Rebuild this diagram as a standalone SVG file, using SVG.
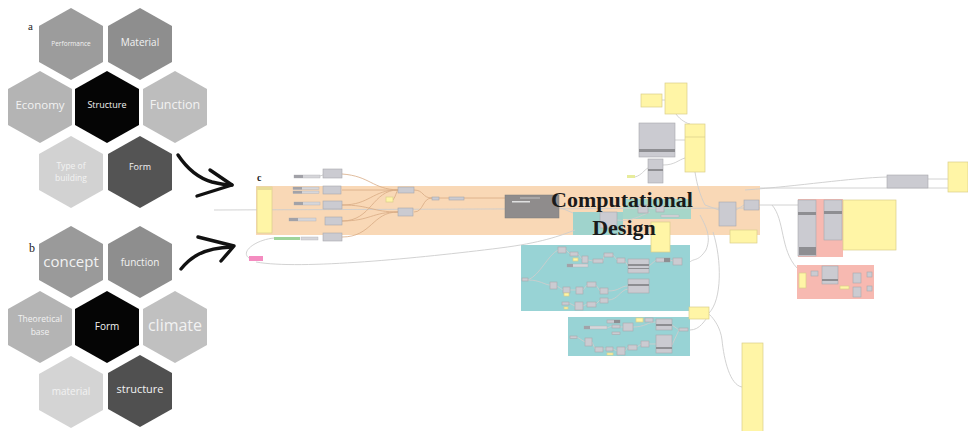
<svg xmlns="http://www.w3.org/2000/svg" width="968" height="431" viewBox="0 0 968 431">
<defs>
<polygon id="hex" points="0,-36 32,-18 32,18 0,36 -32,18 -32,-18"/>
</defs>
<style>
.ht{font-family:"Open Sans","Noto Sans",sans-serif;text-anchor:middle;dominant-baseline:middle;fill:#f2f2f2}
.lbl{font-family:"Liberation Serif",serif;fill:#222}
.nd{fill:#cbcbd1;stroke:#a9a9ad;stroke-width:0.6}
.st{fill:#8e8e92}
.yl{fill:#fff5a6;stroke:#d9cf8a;stroke-width:0.7}
.sl{fill:#d6d6da;stroke:#b0b0b4;stroke-width:0.4}
.sd{fill:#a2a2a8}
.w{fill:none;stroke:#cdcdcd;stroke-width:0.9}
.wo{fill:none;stroke:#d8ab84;stroke-width:0.8}
.arr{fill:none;stroke:#111;stroke-width:3.4;stroke-linecap:round;stroke-linejoin:round}
</style>
<rect width="968" height="431" fill="#fff"/>

<g id="cluster-a">
<text class="lbl" x="28" y="30" font-size="11">a</text>
<g id="a-performance"><use href="#hex" x="71" y="44" fill="#9c9c9c"/><text class="ht" x="71" y="44" font-size="6.5">Performance</text></g>
<g id="a-material"><use href="#hex" x="140" y="44" fill="#8e8e8e"/><text class="ht" x="140" y="43" font-size="10">Material</text></g>
<g id="a-economy"><use href="#hex" x="40" y="107" fill="#b4b4b4"/><text class="ht" x="40" y="106" font-size="11.5">Economy</text></g>
<g id="a-structure"><use href="#hex" x="107" y="107" fill="#050505"/><text class="ht" x="107" y="106" font-size="9" fill="#fff">Structure</text></g>
<g id="a-function"><use href="#hex" x="175" y="107" fill="#bdbdbd"/><text class="ht" x="175" y="106" font-size="12.5">Function</text></g>
<g id="a-type"><use href="#hex" x="71" y="172" fill="#d2d2d2"/><text class="ht" x="71" y="167" font-size="8.5">Type of</text><text class="ht" x="71" y="179" font-size="8.5">building</text></g>
<g id="a-form"><use href="#hex" x="140" y="172" fill="#545454"/><text class="ht" x="140" y="168" font-size="9" fill="#fff">Form</text></g>
</g>

<g id="cluster-b">
<text class="lbl" x="29" y="252" font-size="12">b</text>
<g id="b-concept"><use href="#hex" x="71" y="262" fill="#9a9a9a"/><text class="ht" x="71" y="263" font-size="15">concept</text></g>
<g id="b-function"><use href="#hex" x="140" y="262" fill="#8e8e8e"/><text class="ht" x="140" y="263" font-size="10">function</text></g>
<g id="b-theoretical"><use href="#hex" x="40" y="327" fill="#b4b4b4"/><text class="ht" x="40" y="320" font-size="8.5">Theoretical</text><text class="ht" x="40" y="333" font-size="8.5">base</text></g>
<g id="b-form"><use href="#hex" x="107" y="327" fill="#050505"/><text class="ht" x="107" y="327" font-size="10" fill="#fff">Form</text></g>
<g id="b-climate"><use href="#hex" x="175" y="327" fill="#c0c0c0"/><text class="ht" x="175" y="327" font-size="16">climate</text></g>
<g id="b-material"><use href="#hex" x="71" y="392" fill="#d4d4d4"/><text class="ht" x="71" y="392" font-size="10">material</text></g>
<g id="b-structure"><use href="#hex" x="140" y="391" fill="#505050"/><text class="ht" x="140" y="390" font-size="11">structure</text></g>
</g>

<g id="arrows">
<path class="arr" d="M178,155 C186,167 198,178 212,182 C220,184 226,185 232,185"/>
<path class="arr" d="M210,170 L232,185 L197,196"/>
<path class="arr" d="M181,269 C190,258 202,248 232,247"/>
<path class="arr" d="M198,237 L234,246 L221,261"/>
</g>

<g id="groups">
<rect id="grp-orange" x="256" y="186" width="504" height="49" fill="#f9d8b6"/>
<rect id="grp-teal-a" x="573" y="212" width="50" height="23" fill="#9fd3cc"/>
<rect id="grp-teal-b" x="623" y="199" width="68" height="20" fill="#a6d6c9"/>
<rect id="grp-teal-1" x="521" y="245" width="169" height="66" fill="#98d3d5"/>
<rect id="grp-teal-2" x="568" y="317" width="122" height="39" fill="#98d3d5"/>
<rect id="grp-pink-1" x="798" y="199" width="45" height="58" fill="#f7b9b1"/>
<rect id="grp-pink-2" x="797" y="265" width="77" height="34" fill="#f7b9b1"/>
</g>

<g id="connectors">
<path class="w" d="M214,210 L760,208"/>
<path class="w" d="M760,188 L948,188"/>
<path class="w" d="M745,190 C800,186 850,178 887,177"/>
<path class="w" d="M928,179 L948,179"/>
<path class="w" d="M759,205 L798,205"/>
<path class="w" d="M772,205 C785,220 780,250 797,268"/>
<path class="w" d="M249,258 C240,252 255,240 274,238"/>
<path class="w" d="M256,262 C300,270 420,258 500,248 C540,243 560,236 575,230"/>
<path class="wo" d="M342,174 C370,176 372,189 398,190"/>
<path class="wo" d="M342,190 L398,190"/>
<path class="wo" d="M342,205 C370,205 372,190 398,190"/>
<path class="wo" d="M342,205 C370,205 372,212 398,212"/>
<path class="wo" d="M342,221 C372,221 372,190 398,190"/>
<path class="wo" d="M342,221 C370,221 372,212 398,212"/>
<path class="wo" d="M342,237 C372,237 372,212 398,212"/>
<path class="wo" d="M393,200 C396,196 396,192 398,190"/>
<path class="wo" d="M414,190 C424,190 422,198 432,198"/>
<path class="wo" d="M414,212 C424,212 422,198 432,198"/>
<path class="wo" d="M439,198 L449,198"/>
<path class="wo" d="M464,198 L505,198"/>
<path class="w" d="M320,176 L323,175"/>
<path class="w" d="M662,100 L665,100"/>
<path class="w" d="M675,140 L685,140"/>
<path class="w" d="M663,165 C675,165 678,160 685,158"/>
<path class="w" d="M635,177 C642,175 644,170 648,168"/>
<path class="w" d="M676,114 C680,120 688,124 690,124"/>
<path class="w" d="M695,172 C697,185 700,195 705,205 L719,210"/>
<path class="w" d="M736,210 L744,205"/>
<path class="w" d="M700,215 C705,225 712,236 706,250 C698,262 694,258 690,262"/>
<path class="w" d="M713,232 C722,260 722,300 709,313"/>
<path class="w" d="M690,313 C700,300 720,320 722,340 C724,360 730,385 742,387"/>
<path class="w" d="M690,330 C700,330 705,320 709,315"/>
<path class="w" d="M559,207 L573,213"/>
<path class="w" d="M617,220 C630,222 640,216 650,212"/>
<path class="w" d="M528,280 C540,280 545,285 550,285"/>
<path class="w" d="M528,280 C540,275 548,255 558,250"/>
<path class="w" d="M566,250 L570,254 M578,254 L582,259 M588,260 L593,261 M603,261 L604,255 M613,255 L617,260 M625,261 L628,266"/>
<path class="w" d="M557,286 L563,290 M570,290 L576,290 M583,290 L587,285 M596,285 L600,291 M608,291 C620,291 620,286 628,286"/>
<path class="w" d="M569,303 L575,306 M583,306 L587,304 M596,304 L600,300 M608,300 C618,300 620,290 628,289"/>
<path class="w" d="M649,266 L656,260 M670,260 L673,261"/>
<path class="w" d="M577,337 L585,342 M592,342 L595,349 M603,349 L606,349 M613,349 L617,351 M625,351 L628,347 M637,347 L641,344 M649,344 L656,344"/>
<path class="w" d="M607,328 L612,326 M620,327 L623,327 M633,327 C645,327 648,322 656,322"/>
<path class="w" d="M672,325 L679,330 M672,345 L679,330"/>
</g>

<g id="nodes">
<text class="lbl" x="257" y="181" font-size="10" font-weight="bold">c</text>
<g id="n-panel-left"><rect class="yl" x="257" y="187" width="15" height="46"/><rect x="257" y="187" width="15" height="3" fill="#e8dc98"/></g>
<g id="n-sliders">
<rect class="sl" x="294" y="175" width="26" height="3"/><rect class="sd" x="294" y="175" width="9" height="3"/>
<rect class="sl" x="293" y="187" width="26" height="2.5"/><rect class="sd" x="293" y="187" width="9" height="2.5"/>
<rect class="sl" x="293" y="191" width="26" height="2.5"/><rect class="sd" x="293" y="191" width="9" height="2.5"/>
<rect class="sl" x="294" y="202" width="26" height="3"/><rect class="sd" x="294" y="202" width="9" height="3"/>
<rect class="sl" x="289" y="218" width="27" height="3"/><rect class="sd" x="289" y="218" width="9" height="3"/>
<rect x="274" y="237" width="26" height="3" fill="#9fd49a"/><rect class="sl" x="301" y="237" width="17" height="3"/>
</g>
<g id="n-orange-nodes">
<rect class="nd" x="323" y="169" width="19" height="9"/>
<rect class="nd" x="323" y="186" width="18" height="8"/>
<rect class="nd" x="323" y="201" width="19" height="8"/>
<rect class="nd" x="325" y="217" width="17" height="8"/>
<rect class="nd" x="323" y="233" width="19" height="8"/>
<rect class="yl" x="386" y="197" width="7" height="5"/>
<rect class="nd" x="398" y="187" width="16" height="6"/>
<rect class="nd" x="398" y="208" width="15" height="8"/>
<rect class="nd" x="432" y="197" width="7" height="3"/>
<rect class="nd" x="449" y="197" width="15" height="3"/>
</g>
<g id="n-pink"><rect x="249" y="256" width="14" height="5" fill="#f48cc0"/></g>
<g id="n-dark"><rect x="505" y="195" width="54" height="23" fill="#8f8c8c" stroke="#7e7c7c" stroke-width="0.5"/><rect x="512" y="201" width="18" height="1.5" fill="#e0e0e0"/><rect x="520" y="197" width="20" height="2" fill="#a9a7a7"/></g>
<g id="n-top">
<rect class="yl" x="641" y="94" width="21" height="13"/>
<rect class="yl" x="665" y="83" width="22" height="31"/>
<rect class="nd" x="639" y="123" width="36" height="34"/><rect class="st" x="639" y="149" width="36" height="3"/>
<rect class="yl" x="685" y="124" width="20" height="48"/><line x1="685" y1="137" x2="705" y2="137" stroke="#d9cf8a" stroke-width="0.7"/>
<rect class="nd" x="648" y="159" width="15" height="24"/><rect class="st" x="648" y="169" width="15" height="2"/>
<rect x="627" y="175" width="8" height="3" fill="#e7ec9c"/>
</g>
<g id="n-mid">
<rect class="nd" x="600" y="212" width="17" height="16"/>
<rect class="nd" x="638" y="205" width="10" height="8"/>
<rect class="nd" x="656" y="206" width="8" height="6"/>
<rect class="sl" x="661" y="215" width="18" height="2"/>
<rect class="yl" x="651" y="222" width="19" height="30"/>
<rect class="nd" x="719" y="202" width="17" height="24"/>
<rect class="nd" x="744" y="200" width="15" height="10"/>
<rect class="yl" x="730" y="230" width="27" height="13"/>
</g>
<g id="n-right">
<rect class="nd" x="887" y="175" width="41" height="13"/>
<rect class="yl" x="948" y="162" width="20" height="30"/>
<rect class="nd" x="798" y="200" width="18" height="56"/><rect class="st" x="798" y="212" width="18" height="3"/><rect class="st" x="799" y="247" width="17" height="8"/>
<rect class="nd" x="824" y="200" width="18" height="40"/><rect class="st" x="824" y="211" width="18" height="3"/>
<rect class="yl" x="843" y="200" width="53" height="50"/>
<rect class="yl" x="799" y="273" width="7" height="15"/>
<rect class="nd" x="811" y="271" width="7" height="5"/>
<rect class="nd" x="822" y="266" width="16" height="18"/><rect class="st" x="822" y="279" width="16" height="2"/>
<rect class="yl" x="840" y="286" width="9" height="3"/>
<rect class="nd" x="853" y="273" width="8" height="10"/>
<rect class="nd" x="853" y="287" width="8" height="10"/>
<rect class="nd" x="867" y="272" width="5" height="5"/>
<rect class="nd" x="867" y="286" width="5" height="5"/>
</g>
<g id="n-teal-1">
<rect class="nd" x="558" y="247" width="8" height="6"/>
<rect class="nd" x="570" y="252" width="8" height="4"/>
<rect class="yl" x="573" y="258" width="5" height="3"/>
<rect class="nd" x="582" y="256" width="6" height="7"/>
<rect class="nd" x="593" y="259" width="10" height="4"/>
<rect class="nd" x="604" y="253" width="9" height="4"/>
<rect class="nd" x="617" y="258" width="8" height="5"/>
<rect class="sl" x="567" y="264" width="21" height="3"/><rect class="sd" x="567" y="264" width="6" height="3"/>
<rect class="nd" x="628" y="259" width="21" height="14"/><rect class="st" x="628" y="264" width="21" height="2"/><rect class="st" x="628" y="268" width="21" height="1"/>
<rect class="nd" x="628" y="279" width="21" height="14"/><rect class="st" x="628" y="284" width="21" height="2"/>
<rect class="nd" x="656" y="258" width="14" height="4"/><rect class="st" x="664" y="258" width="6" height="4"/>
<rect class="nd" x="673" y="258" width="9" height="7"/>
<rect class="nd" x="522" y="278" width="6" height="3"/>
<rect class="nd" x="550" y="282" width="7" height="7"/>
<rect class="nd" x="563" y="287" width="7" height="6"/>
<rect class="yl" x="564" y="293" width="5" height="3"/>
<rect class="nd" x="576" y="287" width="7" height="7"/>
<rect class="nd" x="587" y="282" width="9" height="5"/>
<rect class="nd" x="600" y="288" width="8" height="6"/>
<rect class="nd" x="562" y="302" width="7" height="3"/>
<rect class="yl" x="564" y="307" width="4" height="2"/>
<rect class="nd" x="575" y="302" width="8" height="8"/>
<rect class="nd" x="587" y="302" width="9" height="5"/>
<rect class="nd" x="600" y="298" width="8" height="5"/>
</g>
<g id="n-teal-2">
<rect class="nd" x="607" y="320" width="13" height="3"/><rect class="st" x="614" y="320" width="6" height="3"/>
<rect class="yl" x="636" y="318" width="7" height="4"/>
<rect class="nd" x="645" y="318" width="8" height="4"/>
<rect class="nd" x="656" y="319" width="16" height="11"/><rect class="st" x="656" y="324" width="16" height="2"/>
<rect class="sl" x="584" y="326" width="23" height="3"/><rect class="sd" x="584" y="326" width="6" height="3"/>
<rect class="nd" x="612" y="325" width="8" height="3"/>
<rect class="nd" x="612" y="332" width="8" height="2.5"/>
<rect class="nd" x="623" y="323" width="10" height="8"/>
<rect class="nd" x="570" y="336" width="7" height="2.5"/>
<rect class="nd" x="585" y="338" width="7" height="8"/>
<rect class="nd" x="595" y="347" width="8" height="5"/>
<rect class="nd" x="606" y="347" width="7" height="4"/>
<rect class="yl" x="607" y="353" width="6" height="2"/>
<rect class="nd" x="617" y="347" width="8" height="8"/>
<rect class="nd" x="628" y="345" width="9" height="5"/>
<rect class="nd" x="641" y="341" width="8" height="6"/>
<rect class="nd" x="656" y="335" width="16" height="18"/><rect class="st" x="656" y="347" width="16" height="2"/>
<rect class="nd" x="679" y="328" width="9" height="3"/>
</g>
<g id="n-bottom">
<rect class="yl" x="689" y="307" width="20" height="12"/>
<rect class="yl" x="742" y="343" width="21" height="90"/>
</g>
</g>

<g id="title">
<text x="622" y="207" font-family="Liberation Serif,serif" font-size="22" font-weight="bold" fill="#1a1a1a" text-anchor="middle">Computational</text>
<text x="624" y="235" font-family="Liberation Serif,serif" font-size="22" font-weight="bold" fill="#1a1a1a" text-anchor="middle">Design</text>
</g>
</svg>
